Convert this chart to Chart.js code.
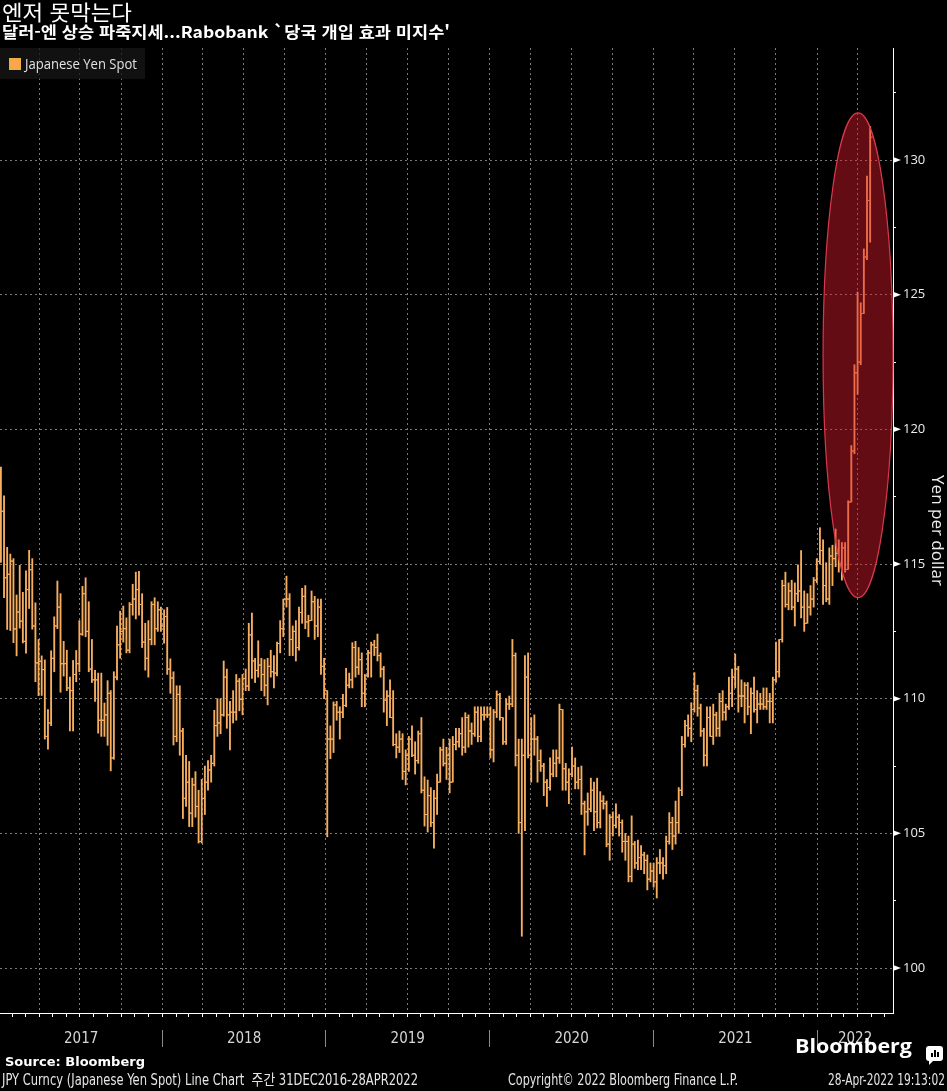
<!DOCTYPE html>
<html lang="ko">
<head>
<meta charset="utf-8">
<title>엔저 못막는다</title>
<script src="https://cdn.jsdelivr.net/npm/chart.js"></script>
<style>
  html, body { margin: 0; padding: 0; background: #000; }
  #page { position: relative; width: 947px; height: 1091px; overflow: hidden; background: #000; }
  #chart { position: absolute; left: 0; top: 0; }
  .txt { position: absolute; white-space: nowrap; color: #e6e6e6; transform-origin: 0 0; }
  #title { left: 2px; top: 1px; font: 400 21px/21px "Noto Sans CJK KR", sans-serif; color: #fff; }
  #subtitle { left: 2px; top: 23px; font: 700 16px/16px "Noto Sans CJK KR", sans-serif; color: #fff; }
  #legend { position: absolute; left: 0; top: 48px; width: 145px; height: 31px; background: rgba(22,22,22,0.78); }
  #legend .sw { position: absolute; left: 9px; top: 10px; width: 12px; height: 12px; background: #f5aa45; }
  #legText { left: 25px; top: 9px; font: 400 14px/14px "Open Sans", sans-serif; color: #e2e2e2; }
  #source { left: 5px; top: 1055px; font: 700 13px/13px "DejaVu Sans", sans-serif; color: #fff; }
  .narrow { top: 1073px; font: 400 15px/15px "Liberation Sans Narrow", "DejaVu Sans Condensed", "Noto Sans CJK KR", sans-serif; }
  #brand { left: 795px; top: 1036px; font: 700 19px/21px "Open Sans", sans-serif; color: #fff; }
  #badge { position: absolute; left: 926px; top: 1046px; width: 17px; height: 15px; background: #fff; border-radius: 3px; }
  #badge::after { content: ''; position: absolute; left: 3px; bottom: -4px; border-left: 4px solid #fff; border-bottom: 4px solid transparent; }
  #badge i { position: absolute; bottom: 4px; width: 2px; background: #000; }
</style>
</head>
<body>
<div id="page">
  <canvas id="chart" width="947" height="1060"></canvas>
  <div class="txt" id="title">엔저 못막는다</div>
  <div class="txt" id="subtitle">달러-엔 상승 파죽지세...Rabobank `당국 개입 효과 미지수'</div>
  <div id="legend"><span class="sw"></span><span class="txt" id="legText"></span></div>
  <div class="txt" id="source">Source: Bloomberg</div>
  <div class="txt narrow" id="footL" style="left:2px">JPY Curncy (Japanese Yen Spot) Line Chart&nbsp; 주간 31DEC2016-28APR2022</div>
  <div class="txt narrow" id="footC" style="left:508px">Copyright© 2022 Bloomberg Finance L.P.</div>
  <div class="txt narrow" id="footR" style="left:828px">28-Apr-2022 19:13:02</div>
  <div class="txt" id="brand">Bloomberg</div>
  <div id="badge"><i style="left:5px;height:4px"></i><i style="left:8px;height:7px"></i><i style="left:11px;height:5px"></i></div>
</div>
<script>
// weekly bars, one row per week: [open, high, low, close]
const yr2017 = [
  [117.00,118.60,115.06,116.96],[116.96,117.53,113.75,114.49],[114.49,115.62,112.57,114.62],[114.62,115.37,112.53,115.11],
  [115.11,115.20,112.08,112.59],[112.59,113.85,111.59,113.22],[113.22,114.95,112.62,112.88],[112.88,113.95,112.07,112.13],
  [112.13,114.75,111.69,114.05],[114.05,115.51,113.35,114.79],[114.79,115.20,112.58,112.70],[112.70,113.56,110.63,111.33],
  [111.33,112.20,110.11,111.39],[111.39,111.59,110.12,111.08],[111.08,111.44,108.50,108.60],[108.60,109.60,108.13,109.10],
  [109.10,111.78,109.00,111.50],[111.50,113.04,111.00,112.70],[112.70,114.37,112.60,113.40],[113.40,113.90,110.24,111.30],
  [111.30,112.13,110.84,111.30],[111.30,111.80,110.30,110.40],[110.40,110.80,108.80,110.30],[110.30,111.42,108.80,110.90],
  [110.90,111.79,110.63,111.30],[111.30,112.90,111.00,112.40],[112.40,114.17,112.35,113.90],[113.90,114.49,112.30,112.50],
  [112.50,113.60,111.00,111.10],[111.10,112.20,110.60,110.70],[110.70,111.05,109.90,110.70],[110.70,110.95,108.72,109.20],
  [109.20,110.95,108.60,109.20],[109.20,109.84,108.60,109.40],[109.40,110.67,108.27,110.20],[110.20,110.30,107.32,107.80],
  [107.80,111.00,107.75,110.80],[110.80,112.70,110.70,112.00],[112.00,113.25,111.50,112.50],[112.50,113.44,112.10,112.60],
  [112.60,113.00,111.70,111.80],[111.80,113.57,111.70,113.50],[113.50,114.25,113.10,113.70],[113.70,114.70,112.96,114.05],
  [114.05,114.73,113.10,113.50],[113.50,113.90,111.90,112.10],[112.10,112.80,111.06,111.50],[111.50,112.90,110.80,112.20],
  [112.20,113.60,112.00,113.50],[113.50,113.75,112.00,112.60],[112.60,113.60,112.50,113.30],[113.30,113.40,112.50,112.70]
];
const yr2018 = [
  [112.70,113.30,112.06,113.05],[113.05,113.39,110.90,111.10],[111.10,111.48,110.20,110.77],[110.77,111.00,108.28,108.60],
  [108.60,110.48,108.40,110.16],[110.16,110.48,107.90,108.80],[108.80,108.90,105.55,106.30],[106.30,107.90,106.00,106.90],
  [106.90,107.67,105.25,105.75],[105.75,107.05,105.25,106.80],[106.80,107.29,105.60,106.00],[106.00,106.60,104.64,104.70],
  [104.70,107.00,104.64,106.30],[106.30,107.50,105.70,106.90],[106.90,107.70,106.60,107.35],[107.35,107.90,106.90,107.60],
  [107.60,109.57,107.50,109.00],[109.00,110.00,108.60,109.10],[109.10,110.00,108.70,109.40],[109.40,111.40,109.35,110.80],
  [110.80,111.10,108.90,109.40],[109.40,109.90,108.10,109.50],[109.50,110.30,109.10,109.50],[109.50,110.90,109.20,110.65],
  [110.65,110.75,109.55,109.97],[109.97,110.90,109.40,110.75],[110.75,111.10,110.30,110.47],[110.47,112.80,110.30,112.37],
  [112.37,113.18,110.75,111.40],[111.40,111.50,110.60,111.05],[111.05,112.15,110.80,111.25],[111.25,111.50,110.30,110.90],
  [110.90,111.45,110.10,110.50],[110.50,111.50,109.77,111.20],[111.20,111.80,110.80,111.00],[111.00,111.60,110.40,110.95],
  [110.95,112.10,110.85,112.05],[112.05,112.90,111.70,112.60],[112.60,113.70,112.30,113.70],[113.70,114.55,113.40,113.70],
  [113.70,113.90,111.60,112.20],[112.20,112.70,111.60,112.50],[112.50,112.90,111.40,111.90],[111.90,113.40,111.80,113.20],
  [113.20,114.10,112.80,113.80],[113.80,114.20,112.60,112.85],[112.85,113.10,112.30,112.90],[112.90,114.00,112.90,113.60],
  [113.60,113.80,112.20,112.70],[112.70,113.70,112.30,113.40],[113.40,113.70,110.90,111.20],[111.20,111.50,110.00,110.30]
];
const yr2019 = [
  [110.30,110.30,104.87,108.50],[108.50,108.99,107.77,108.50],[108.50,109.88,108.00,109.77],[109.77,109.90,109.20,109.50],
  [109.50,109.70,108.50,109.50],[109.50,110.16,109.30,109.75],[109.75,111.13,109.70,110.50],[110.50,110.95,110.40,110.70],
  [110.70,112.08,110.40,111.90],[111.90,112.13,110.80,111.17],[111.17,111.90,110.90,111.45],[111.45,111.70,109.70,110.20],
  [110.20,110.90,109.70,110.85],[110.85,111.80,110.80,111.70],[111.70,112.10,110.80,112.00],[112.00,112.17,111.60,111.90],
  [111.90,112.40,111.40,111.60],[111.60,111.70,110.80,111.10],[111.10,111.20,109.50,109.95],[109.95,110.30,109.00,110.10],
  [110.10,110.70,109.30,109.30],[109.30,110.30,108.25,108.30],[108.30,108.70,107.80,108.20],[108.20,108.80,108.00,108.50],
  [108.50,108.70,107.00,107.30],[107.30,108.10,106.80,107.90],[107.90,108.60,107.30,108.50],[108.50,108.99,107.85,107.90],
  [107.90,108.40,107.20,107.70],[107.70,108.80,107.60,108.70],[108.70,109.30,106.50,106.60],[106.60,107.10,105.27,105.70],
  [105.70,106.98,105.05,106.40],[106.40,106.70,105.25,105.40],[105.40,106.60,104.45,106.30],[106.30,107.20,105.70,106.90],
  [106.90,108.20,106.90,108.10],[108.10,108.50,107.50,107.60],[107.60,108.20,107.00,107.90],[107.90,108.50,106.50,106.90],
  [106.90,108.60,106.90,108.30],[108.30,108.90,108.10,108.40],[108.40,108.90,108.20,108.70],[108.70,109.30,107.90,108.20],
  [108.20,109.48,108.00,109.30],[109.30,109.40,108.20,108.80],[108.80,109.10,108.30,108.70],[108.70,109.70,108.60,109.50],
  [109.50,109.70,108.40,108.60],[108.60,109.70,108.40,109.40],[109.40,109.70,109.20,109.40],[109.40,109.70,109.30,109.40]
];
const yr2020 = [
  [109.40,109.70,107.80,108.10],[108.10,109.60,107.65,109.50],[109.50,110.29,109.30,110.15],[110.15,110.20,109.20,109.30],
  [109.30,109.30,108.30,108.40],[108.40,110.00,108.30,109.80],[109.80,110.10,109.60,109.80],[109.80,112.20,109.70,111.60],
  [111.60,111.70,107.50,107.90],[107.90,108.50,105.00,105.40],[105.40,108.50,101.18,107.90],[107.90,111.60,105.10,110.80],
  [110.80,111.70,107.80,107.90],[107.90,109.30,106.90,108.50],[108.50,109.40,107.90,108.50],[108.50,108.60,106.90,107.70],
  [107.70,108.10,107.30,107.50],[107.50,107.60,106.40,106.90],[106.90,107.00,106.00,106.70],[106.70,107.80,106.60,107.20],
  [107.20,108.10,107.10,107.60],[107.60,108.10,107.10,107.80],[107.80,109.80,107.60,109.60],[109.60,109.60,106.60,107.40],
  [107.40,107.60,106.60,106.90],[106.90,107.40,106.10,107.20],[107.20,108.20,107.10,107.50],[107.50,107.80,106.65,106.90],
  [106.90,107.45,106.65,107.00],[107.00,107.50,105.70,106.10],[106.10,106.20,104.20,105.80],[105.80,106.50,105.30,105.90],
  [105.90,107.05,105.80,106.60],[106.60,106.90,105.10,105.80],[105.80,107.05,105.20,105.40],[105.40,106.55,105.20,106.20],
  [106.20,106.40,105.90,106.10],[106.10,106.20,104.50,104.60],[104.60,105.70,104.00,105.60],[105.60,105.80,104.90,105.30],
  [105.30,106.10,105.20,105.60],[105.60,105.70,104.90,105.40],[105.40,105.50,104.30,104.70],[104.70,105.00,104.00,104.70],
  [104.70,104.90,103.20,103.40],[103.40,105.65,103.20,104.60],[104.60,104.70,103.70,103.90],[103.90,104.75,103.65,104.10],
  [104.10,104.55,103.65,104.20],[104.20,104.30,103.50,104.00],[104.00,104.20,102.90,103.30],[103.30,103.90,103.20,103.60],
  [103.60,103.90,103.00,103.20]
];
const yr2021 = [
  [103.20,104.10,102.60,103.90],[103.90,104.40,103.50,103.90],[103.90,104.10,103.30,103.80],[103.80,104.90,103.50,104.70],
  [104.70,105.77,104.60,105.40],[105.40,105.60,104.40,104.90],[104.90,106.20,104.60,105.40],[105.40,106.70,105.00,106.60],
  [106.60,108.60,106.40,108.30],[108.30,109.20,108.20,109.00],[109.00,109.40,108.60,108.90],[108.90,109.85,108.40,109.60],
  [109.60,110.97,109.50,110.30],[110.30,110.50,109.35,109.65],[109.65,109.80,108.60,108.80],[108.80,108.90,107.50,107.90],
  [107.90,109.70,107.50,109.30],[109.30,109.70,108.60,108.60],[108.60,109.80,108.30,109.40],[109.40,109.50,108.60,108.90],
  [108.90,110.20,108.60,109.90],[109.90,110.30,109.20,109.50],[109.50,109.80,109.20,109.70],[109.70,110.80,109.60,110.20],
  [110.20,111.10,109.70,110.80],[110.80,111.66,110.40,111.10],[111.10,111.20,109.50,110.10],[110.10,110.70,109.70,110.10],
  [110.10,110.60,109.10,110.50],[110.50,110.60,109.40,109.70],[109.70,110.40,108.70,110.20],[110.20,110.80,109.50,109.60],
  [109.60,110.30,109.10,109.80],[109.80,110.20,109.60,109.80],[109.80,110.40,109.60,109.70],[109.70,110.40,109.60,109.90],
  [109.90,110.20,109.10,109.90],[109.90,110.80,109.10,110.70],[110.70,112.10,110.60,111.00],[111.00,112.20,110.80,112.20],
  [112.20,114.40,112.10,114.20],[114.20,114.70,113.40,113.50],[113.50,114.30,113.30,114.00],[114.00,114.40,113.30,113.40],
  [113.40,114.30,112.70,113.90],[113.90,114.97,113.60,114.00],[114.00,115.50,113.00,113.40],[113.40,114.00,112.50,112.80],
  [112.80,113.90,112.80,113.40],[113.40,114.20,113.10,113.70],[113.70,114.50,113.40,114.40],[114.40,115.20,114.30,115.10]
];
const yr2022 = [
  [115.10,116.35,115.00,115.50],[115.50,115.90,113.50,114.20],[114.20,115.05,113.60,113.70],[113.70,115.60,113.50,115.30],
  [115.30,115.70,114.20,115.20],[115.20,116.30,114.90,115.40],[115.40,115.90,114.70,115.00],[115.00,115.80,114.40,115.60],
  [115.60,115.80,114.70,114.80],[114.80,117.35,114.80,117.30],[117.30,119.40,117.30,119.20],[119.20,122.40,119.10,122.10],
  [122.10,125.10,121.30,122.50],[122.50,124.70,122.40,124.30],[124.30,126.70,124.30,126.40],[126.40,129.40,126.30,128.50],
  [128.50,131.25,126.95,130.85]
];

const firstWeek = '2017-01-06';          // date of the first weekly bar
const xRange = ['2017-01-04', '2022-06-19'];
const yRange = [98.33, 134.16];
const yTicks = [100, 105, 110, 115, 120, 125, 130];
const yMinor = [102.5, 107.5, 112.5, 117.5, 122.5, 127.5, 132.5];
const yearLabels = ['2017', '2018', '2019', '2020', '2021', '2022'];
const seriesLabel = 'Japanese Yen Spot';
const ring = { from: '2022-01-14', to: '2022-06-19', low: 113.75, high: 131.75 };

const orange = '#f7ae5f';
const gridGray = '#7a7a7a';
const t0 = Date.UTC(2017, 0, 1);
const dayOf = s => (Date.parse(s + 'T00:00:00Z') - t0) / 86400000;
const dayOfYMD = (y, m) => (Date.UTC(y, m, 1) - t0) / 86400000;

const weeks = [...yr2017, ...yr2018, ...yr2019, ...yr2020, ...yr2021, ...yr2022];
const weekDays = weeks.map((w, i) => dayOf(firstWeek) + 7 * i);
const xMin = dayOf(xRange[0]), xMax = dayOf(xRange[1]);

// month ticks on the axis line, quarters get a dotted grid line
const monthDays = [], quarterDays = new Set();
for (let y = 2017; y <= 2022; y++) {
  for (let m = 0; m < 12; m++) {
    const d = dayOfYMD(y, m);
    if (d < xMin || d > xMax) continue;
    monthDays.push(d);
    if (m % 3 === 0) quarterDays.add(d);
  }
}
// year separators and year label positions
const yearTicks = [];
yearLabels.forEach((lab, i) => {
  const y = +lab;
  const a = Math.max(dayOfYMD(y, 0), xMin), b = Math.min(dayOfYMD(y + 1, 0), xMax);
  yearTicks.push({ value: (a + b) / 2, yearName: lab });
  if (i > 0) yearTicks.push({ value: dayOfYMD(y, 0), yearName: '' });
});
yearTicks.sort((p, q) => p.value - q.value);

document.getElementById('legText').textContent = seriesLabel;

const ohlcMarks = {
  id: 'ohlcMarks',
  afterDatasetsDraw(chart) {
    const { ctx, chartArea: a, scales: { x, y } } = chart;
    ctx.save();
    ctx.beginPath();
    ctx.rect(a.left, a.top, a.right - a.left, a.bottom - a.top);
    ctx.clip();
    ctx.fillStyle = orange;
    weeks.forEach((w, i) => {
      const px = x.getPixelForValue(weekDays[i]);
      ctx.fillRect(px - 2.6, y.getPixelForValue(w[0]) - 0.5, 2, 1);
      ctx.fillRect(px + 0.6, y.getPixelForValue(w[3]) - 0.5, 2, 1);
    });
    ctx.restore();

    // highlighted area
    const x1 = x.getPixelForValue(dayOf(ring.from)), x2 = x.getPixelForValue(dayOf(ring.to));
    const y1 = y.getPixelForValue(ring.high), y2 = y.getPixelForValue(ring.low);
    ctx.save();
    ctx.beginPath();
    ctx.ellipse((x1 + x2) / 2, (y1 + y2) / 2, (x2 - x1) / 2, (y2 - y1) / 2, 0, 0, Math.PI * 2);
    ctx.fillStyle = 'rgba(222,27,44,0.45)';
    ctx.fill();
    ctx.strokeStyle = '#d9394c';
    ctx.lineWidth = 1.2;
    ctx.stroke();
    ctx.restore();
  },
  // arrow-shaped marks at the labelled y ticks
  afterDraw(chart) {
    const { ctx, scales: { y } } = chart;
    ctx.save();
    ctx.fillStyle = '#ffffff';
    yTicks.forEach(v => {
      const py = y.getPixelForValue(v);
      ctx.beginPath();
      ctx.moveTo(y.left, py - 3);
      ctx.lineTo(y.left + 8, py);
      ctx.lineTo(y.left, py + 3);
      ctx.closePath();
      ctx.fill();
    });
    ctx.restore();
  }
};

const narrowFont = '"Liberation Sans Narrow", "DejaVu Sans Condensed", sans-serif';

new Chart(document.getElementById('chart'), {
  type: 'bar',
  data: {
    datasets: [{
      label: seriesLabel,
      data: weeks.map((w, i) => ({ x: weekDays[i], y: [w[2], w[1]] })),
      backgroundColor: orange,
      borderWidth: 0,
      barThickness: 1.2,
      grouped: false,
      xAxisID: 'x',
      yAxisID: 'y'
    }]
  },
  options: {
    responsive: false,
    animation: false,
    devicePixelRatio: 1,
    layout: { padding: { top: 48, left: 0, right: 0, bottom: 7 } },
    plugins: {
      legend: { display: false },
      tooltip: { enabled: false }
    },
    scales: {
      x: {
        type: 'linear',
        position: 'bottom',
        weight: 0,
        min: xMin,
        max: xMax,
        offset: false,
        afterBuildTicks: s => { s.ticks = monthDays.map(v => ({ value: v })); },
        afterFit: s => { s.height = 4; },
        ticks: { display: false },
        grid: {
          offset: false,
          drawOnChartArea: true,
          drawTicks: true,
          tickLength: 4,
          color: c => (c.tick && quarterDays.has(c.tick.value)) ? gridGray : 'rgba(0,0,0,0)',
          tickColor: '#ffffff'
        },
        border: { display: true, color: '#ffffff', width: 1, dash: [2, 3] }
      },
      years: {
        type: 'linear',
        position: 'bottom',
        weight: 1,
        min: xMin,
        max: xMax,
        offset: false,
        afterBuildTicks: s => { s.ticks = yearTicks.map(t => ({ value: t.value, yearName: t.yearName })); },
        afterFit: s => { s.height = 36; },
        ticks: {
          autoSkip: false,
          maxRotation: 0,
          padding: -17,
          color: '#d6d6d6',
          font: { family: narrowFont, size: 15 },
          callback: (v, i, ticks) => ticks[i].yearName || ''
        },
        grid: {
          offset: false,
          drawOnChartArea: false,
          drawTicks: true,
          tickLength: 30,
          color: c => (c.tick && c.tick.yearName === '') ? '#8a8a8a' : 'rgba(0,0,0,0)',
          tickColor: c => (c.tick && c.tick.yearName === '') ? '#8a8a8a' : 'rgba(0,0,0,0)',
          tickBorderDash: [0, 13, 17, 60]
        },
        border: { display: false }
      },
      y: {
        type: 'linear',
        position: 'right',
        min: yRange[0],
        max: yRange[1],
        afterBuildTicks: s => { s.ticks = [...yTicks, ...yMinor].sort((a, b) => a - b).map(v => ({ value: v })); },
        afterFit: s => { s.width = 54; },
        ticks: {
          padding: 7,
          color: '#ececec',
          font: { family: '"Open Sans", sans-serif', size: 13 },
          callback: v => yTicks.includes(v) ? String(v) : ''
        },
        grid: {
          drawTicks: true,
          tickLength: 3,
          color: c => (c.tick && yTicks.includes(c.tick.value)) ? gridGray : 'rgba(0,0,0,0)',
          tickColor: '#ffffff'
        },
        border: { display: true, color: '#ffffff', width: 1, dash: [2, 3] },
        title: {
          display: true,
          text: 'Yen per dollar',
          color: '#ececec',
          font: { family: '"Open Sans", sans-serif', size: 17 },
          padding: 0
        }
      }
    }
  },
  plugins: [ohlcMarks]
});

// squeeze the header / footer texts to the widths they take in the original
function fitWidth(id, width) {
  const el = document.getElementById(id);
  el.style.transform = 'none';
  const w = el.getBoundingClientRect().width;
  if (w > 0) el.style.transform = 'scaleX(' + (width / w) + ')';
}
function fitAll() {
  fitWidth('title', 130);
  fitWidth('subtitle', 448);
  fitWidth('legText', 112);
  fitWidth('source', 140);
  fitWidth('footL', 416);
  fitWidth('footC', 230);
  fitWidth('footR', 117);
  fitWidth('brand', 117);
}
fitAll();
if (document.fonts && document.fonts.ready) document.fonts.ready.then(fitAll);
</script>
</body>
</html>
